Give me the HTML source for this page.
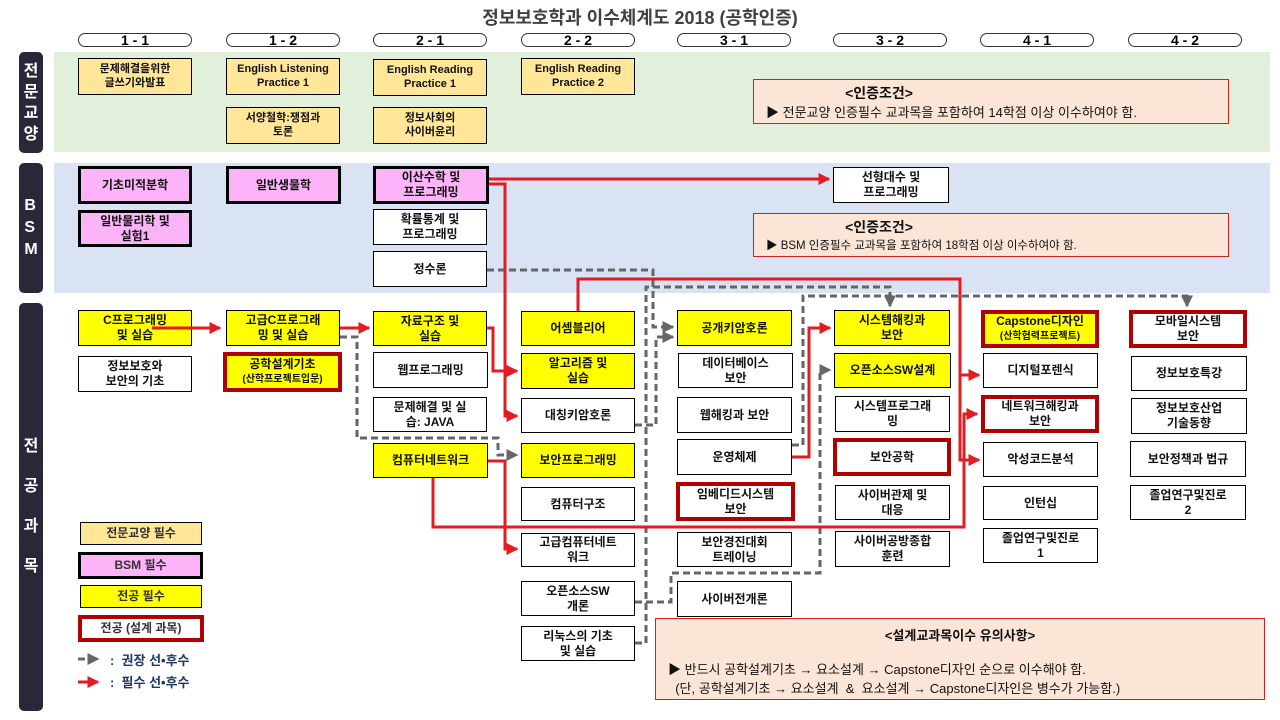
<!DOCTYPE html>
<html><head><meta charset="utf-8">
<style>
body{margin:0;width:1280px;height:720px;background:#fff;position:relative;overflow:hidden;font-family:"Liberation Sans","Noto Sans CJK KR",sans-serif;}
.a{position:absolute;box-sizing:border-box;}
.b{position:absolute;box-sizing:border-box;display:flex;align-items:center;justify-content:center;text-align:center;border:1px solid #000;background:#fff;font-weight:bold;font-size:12px;line-height:1.25;color:#111;}
.y{background:#ffff00;}
.g{background:#ffe699;font-size:11px;}
.p{background:#fcb3f7;border:3px solid #000;}
.r{border:4px solid #b00000;}
.pill{position:absolute;top:33px;height:14px;width:114px;border:1px solid #333;border-radius:7px;box-sizing:border-box;text-align:center;font-weight:bold;font-size:14px;line-height:13px;}
.side{position:absolute;left:19px;width:24px;background:#2b2738;border-radius:5px;color:#fff;font-weight:bold;font-size:16px;display:flex;flex-direction:column;align-items:center;justify-content:center;}
.note{position:absolute;background:#fbe5d6;border:1px solid #d02020;box-sizing:border-box;font-size:13px;color:#111;}
</style></head><body>
<div class="a" style="left:0;top:4px;width:1280px;text-align:center;font-weight:bold;font-size:18px;color:#404040;">정보보호학과 이수체계도 2018 (공학인증)</div>

<div class="pill" style="left:78px">1 - 1</div>
<div class="pill" style="left:226px">1 - 2</div>
<div class="pill" style="left:373px">2 - 1</div>
<div class="pill" style="left:521px">2 - 2</div>
<div class="pill" style="left:677px">3 - 1</div>
<div class="pill" style="left:833px">3 - 2</div>
<div class="pill" style="left:980px">4 - 1</div>
<div class="pill" style="left:1128px">4 - 2</div>

<div class="a" style="left:54px;top:52px;width:1216px;height:100px;background:#e2efda"></div>
<div class="a" style="left:54px;top:163px;width:1216px;height:130px;background:#dae3f3"></div>

<div class="side" style="top:52px;height:101px;line-height:21px">전<br>문<br>교<br>양</div>
<div class="side" style="top:163px;height:130px;line-height:22px">B<br>S<br>M</div>
<div class="side" style="top:303px;height:408px;line-height:40px">전<br>공<br>과<br>목</div>

<div class="b g" style="left:78px;top:58px;width:114px;height:37px">문제해결을위한<br>글쓰기와발표</div>
<div class="b g" style="left:226px;top:58px;width:114px;height:37px">English Listening<br>Practice 1</div>
<div class="b g" style="left:373px;top:59px;width:114px;height:37px">English Reading<br>Practice 1</div>
<div class="b g" style="left:521px;top:58px;width:114px;height:37px">English Reading<br>Practice 2</div>
<div class="b g" style="left:226px;top:107px;width:114px;height:37px">서양철학:쟁점과<br>토론</div>
<div class="b g" style="left:373px;top:107px;width:114px;height:37px">정보사회의<br>사이버윤리</div>
<div class="note" style="left:753px;top:79px;width:476px;height:45px;">
<div style="position:absolute;left:0;width:250px;top:3px;text-align:center;font-weight:bold;font-size:14px">&lt;인증조건&gt;</div>
<div style="position:absolute;left:12px;top:22px;font-size:13px">▶ 전문교양 인증필수 교과목을 포함하여 14학점 이상 이수하여야 함.</div></div>

<div class="b p" style="left:78px;top:166px;width:114px;height:38px">기초미적분학</div>
<div class="b p" style="left:78px;top:210px;width:114px;height:37px">일반물리학 및<br>실험1</div>
<div class="b p" style="left:226px;top:166px;width:115px;height:38px">일반생물학</div>
<div class="b p" style="left:373px;top:166px;width:116px;height:38px">이산수학 및<br>프로그래밍</div>
<div class="b" style="left:373px;top:209px;width:114px;height:36px">확률통계 및<br>프로그래밍</div>
<div class="b" style="left:373px;top:251px;width:114px;height:36px">정수론</div>
<div class="b" style="left:833px;top:167px;width:116px;height:36px">선형대수 및<br>프로그래밍</div>
<div class="note" style="left:753px;top:213px;width:476px;height:44px;">
<div style="position:absolute;left:0;width:250px;top:3px;text-align:center;font-weight:bold;font-size:14px">&lt;인증조건&gt;</div>
<div style="position:absolute;left:12px;top:23px;font-size:11.5px">▶ BSM 인증필수 교과목을 포함하여 18학점 이상 이수하여야 함.</div></div>

<div class="b y" style="left:78px;top:310px;width:114px;height:36px">C프로그래밍<br>및 실습</div>
<div class="b" style="left:78px;top:356px;width:114px;height:36px">정보보호와<br>보안의 기초</div>
<div class="b y" style="left:226px;top:310px;width:114px;height:36px">고급C프로그래<br>밍 및 실습</div>
<div class="b y r" style="left:223px;top:352px;width:119px;height:40px;line-height:1.15"><div>공학설계기초<br><span style="font-size:10px">(산학프로젝트입문)</span></div></div>
<div class="b y" style="left:373px;top:311px;width:114px;height:35px">자료구조 및<br>실습</div>
<div class="b" style="left:373px;top:352px;width:115px;height:36px">웹프로그래밍</div>
<div class="b" style="left:373px;top:397px;width:114px;height:35px">문제해결 및 실<br>습: JAVA</div>
<div class="b y" style="left:373px;top:443px;width:115px;height:35px">컴퓨터네트워크</div>

<div class="b y" style="left:521px;top:311px;width:114px;height:35px">어셈블리어</div>
<div class="b y" style="left:521px;top:353px;width:114px;height:36px">알고리즘 및<br>실습</div>
<div class="b" style="left:521px;top:398px;width:114px;height:35px">대칭키암호론</div>
<div class="b y" style="left:521px;top:443px;width:114px;height:35px">보안프로그래밍</div>
<div class="b" style="left:521px;top:487px;width:114px;height:34px">컴퓨터구조</div>
<div class="b" style="left:521px;top:533px;width:114px;height:34px">고급컴퓨터네트<br>워크</div>
<div class="b" style="left:521px;top:581px;width:114px;height:35px">오픈소스SW<br>개론</div>
<div class="b" style="left:521px;top:626px;width:114px;height:35px">리눅스의 기초<br>및 실습</div>

<div class="b y" style="left:677px;top:310px;width:115px;height:36px">공개키암호론</div>
<div class="b" style="left:678px;top:353px;width:115px;height:35px">데이터베이스<br>보안</div>
<div class="b" style="left:677px;top:397px;width:115px;height:36px">웹해킹과 보안</div>
<div class="b" style="left:677px;top:439px;width:115px;height:36px">운영체제</div>
<div class="b r" style="left:676px;top:482px;width:119px;height:39px">임베디드시스템<br>보안</div>
<div class="b" style="left:677px;top:532px;width:115px;height:35px">보안경진대회<br>트레이닝</div>
<div class="b" style="left:677px;top:581px;width:115px;height:36px">사이버전개론</div>

<div class="b y" style="left:834px;top:310px;width:116px;height:36px">시스템해킹과<br>보안</div>
<div class="b y" style="left:834px;top:353px;width:117px;height:35px">오픈소스SW설계</div>
<div class="b" style="left:835px;top:396px;width:115px;height:36px">시스템프로그래<br>밍</div>
<div class="b r" style="left:833px;top:438px;width:118px;height:38px">보안공학</div>
<div class="b" style="left:835px;top:485px;width:115px;height:35px">사이버관제 및<br>대응</div>
<div class="b" style="left:835px;top:531px;width:115px;height:36px">사이버공방종합<br>훈련</div>

<div class="b y r" style="left:981px;top:310px;width:118px;height:38px;line-height:1.15"><div>Capstone디자인<br><span style="font-size:10px">(산학협력프로젝트)</span></div></div>
<div class="b" style="left:983px;top:353px;width:115px;height:35px">디지털포렌식</div>
<div class="b r" style="left:981px;top:395px;width:118px;height:38px">네트워크해킹과<br>보안</div>
<div class="b" style="left:983px;top:442px;width:115px;height:35px">악성코드분석</div>
<div class="b" style="left:983px;top:486px;width:115px;height:34px">인턴십</div>
<div class="b" style="left:983px;top:528px;width:115px;height:35px">졸업연구및진로<br>1</div>

<div class="b r" style="left:1129px;top:310px;width:118px;height:38px">모바일시스템<br>보안</div>
<div class="b" style="left:1131px;top:356px;width:116px;height:35px">정보보호특강</div>
<div class="b" style="left:1131px;top:398px;width:116px;height:36px">정보보호산업<br>기술동향</div>
<div class="b" style="left:1130px;top:441px;width:116px;height:36px">보안정책과 법규</div>
<div class="b" style="left:1130px;top:485px;width:116px;height:35px">졸업연구및진로<br>2</div>

<div class="b g" style="left:80px;top:522px;width:122px;height:23px;font-size:12px;color:#333">전문교양 필수</div>
<div class="b p" style="left:78px;top:552px;width:125px;height:27px;color:#333">BSM 필수</div>
<div class="b y" style="left:80px;top:585px;width:122px;height:23px;color:#333">전공 필수</div>
<div class="b r" style="left:78px;top:615px;width:126px;height:27px;color:#333">전공 (설계 과목)</div>
<div class="a" style="left:110px;top:650px;font-weight:bold;font-size:13px;color:#1f3864">:&nbsp; 권장 선•후수</div>
<div class="a" style="left:110px;top:672px;font-weight:bold;font-size:13px;color:#1f3864">:&nbsp; 필수 선•후수</div>

<div class="note" style="left:655px;top:618px;width:610px;height:82px;">
<div style="position:absolute;left:0;width:100%;top:6px;text-align:center;font-weight:bold;font-size:13px">&lt;설계교과목이수 유의사항&gt;</div>
<div style="position:absolute;left:12px;top:41px;font-size:13px;line-height:19px">▶ 반드시 공학설계기초 → 요소설계 → Capstone디자인 순으로 이수해야 함.<br>&nbsp;&nbsp;(단, 공학설계기초 → 요소설계 &nbsp;&amp;&nbsp; 요소설계 → Capstone디자인은 병수가 가능함.)</div></div>

<svg class="a" style="left:0;top:0" width="1280" height="720">
<defs>
<marker id="ar" markerWidth="4" markerHeight="4" refX="3.5" refY="2" orient="auto" markerUnits="strokeWidth"><path d="M0,0 L4,2 L0,4z" fill="#e31b23"/></marker>
<marker id="ag" markerWidth="4" markerHeight="4" refX="3.5" refY="2" orient="auto" markerUnits="strokeWidth"><path d="M0,0 L4,2 L0,4z" fill="#666"/></marker>
</defs>
<g fill="none" stroke="#666" stroke-width="3" stroke-dasharray="7,4">
<path d="M340,337 H357 V438 H498 V455 H517" marker-end="url(#ag)"/>
<path d="M487,270 H653 V327 H673" marker-end="url(#ag)"/>
<path d="M635,425 H656 V337 H673" marker-end="url(#ag)"/>
<path d="M635,643 H646 V287 H890 V306" marker-end="url(#ag)"/>
<path d="M635,602 H671 V573 H820 V370 H830" marker-end="url(#ag)"/>
<path d="M792,445 H803 V296 H1187 V306" marker-end="url(#ag)"/>
<path d="M78,659 H98" marker-end="url(#ag)"/>
</g>
<g fill="none" stroke="#e31b23" stroke-width="3">
<path d="M152,328 H220" marker-end="url(#ar)"/>
<path d="M340,328 H369" marker-end="url(#ar)"/>
<path d="M487,328 H493 V371 H517" marker-end="url(#ar)"/>
<path d="M489,184 H505 V416 H517" marker-end="url(#ar)"/>
<path d="M489,179 H829" marker-end="url(#ar)"/>
<path d="M488,461 H505 V549 H517" marker-end="url(#ar)"/>
<path d="M433,478 V527 H964 V414 H977" marker-end="url(#ar)"/>
<path d="M578,311 V279 H960 V460 H979" marker-end="url(#ar)"/>
<path d="M960,375 H979" marker-end="url(#ar)"/>
<path d="M792,457 H809 V328 H830" marker-end="url(#ar)"/>
<path d="M78,682 H98" marker-end="url(#ar)"/>
</g>
</svg>
</body></html>
